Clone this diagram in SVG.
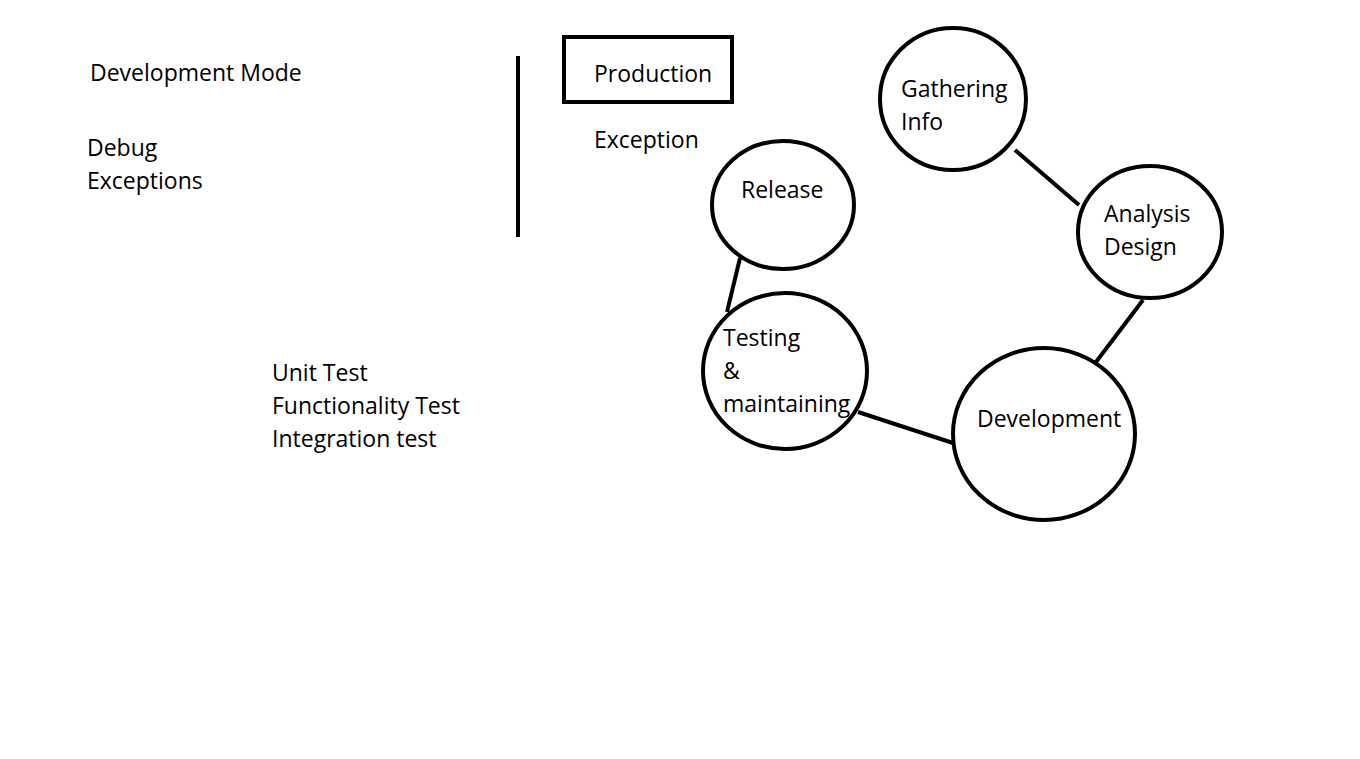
<svg xmlns="http://www.w3.org/2000/svg" width="1360" height="759" viewBox="0 0 1360 759">
<style>
text{font-family:"Open Sans","Noto Sans","DejaVu Sans",sans-serif;font-size:23px;fill:#000}
.n{fill:#fff;stroke:#000;stroke-width:4}
.c line{stroke:#000;stroke-width:4}
</style>
<rect width="1360" height="759" fill="#fff"/>
<g id="left-text">
<text x="90" y="81">Development Mode</text>
<text x="87" y="156">Debug</text>
<text x="87" y="189">Exceptions</text>
<text x="272" y="381">Unit Test</text>
<text x="272" y="414">Functionality Test</text>
<text x="272" y="447">Integration test</text>
</g>
<g id="divider"><line x1="518" y1="56" x2="518" y2="237" stroke="#000" stroke-width="4"/></g>
<g id="production"><rect class="n" x="564" y="37" width="168" height="65"/><text x="594" y="82">Production</text></g>
<text x="594" y="148">Exception</text>
<g class="c" id="connectors">
<line x1="1015" y1="150" x2="1079" y2="205"/>
<line x1="1143" y1="300" x2="1096" y2="362"/>
<line x1="858" y1="412" x2="953" y2="443"/>
<line x1="740" y1="258" x2="727" y2="312"/>
</g>
<g id="gathering"><ellipse class="n" cx="953" cy="99" rx="73" ry="71"/><text x="901" y="97">Gathering</text><text x="901" y="130">Info</text></g>
<g id="analysis"><ellipse class="n" cx="1150" cy="232" rx="72" ry="66"/><text x="1104" y="222">Analysis</text><text x="1104" y="255">Design</text></g>
<g id="release"><ellipse class="n" cx="783" cy="205" rx="71" ry="64"/><text x="741" y="198">Release</text></g>
<g id="testing"><ellipse class="n" cx="785" cy="371" rx="82" ry="78" fill-opacity="0"/><text x="723" y="346">Testing</text><text x="723" y="379">&amp;</text><text x="723" y="412">maintaining</text></g>
<g id="development"><ellipse class="n" cx="1044" cy="434" rx="91" ry="86"/><text x="977" y="427">Development</text></g>
</svg>
